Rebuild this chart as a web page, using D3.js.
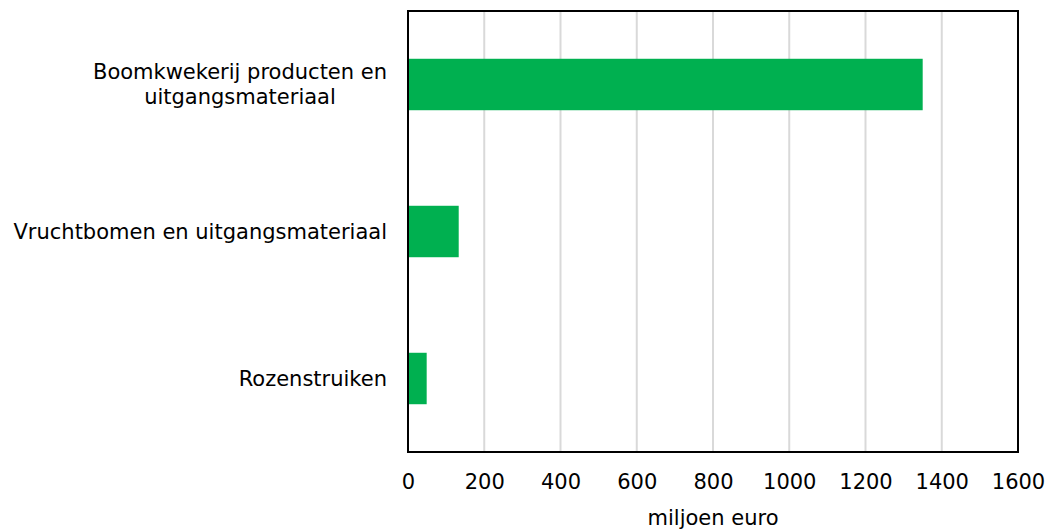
<!DOCTYPE html>
<html>
<head>
<meta charset="utf-8">
<script src="https://cdn.jsdelivr.net/npm/d3@7"></script>
<style>
  body { margin: 0; background: #fff; }
  text { font-family: "DejaVu Sans", Verdana, sans-serif; fill: #000; }
</style>
</head>
<body>
<svg id="chart" width="1048" height="530"></svg>
<script>
// categories, top to bottom (lines split as in the source)
const categories = [
  ["Boomkwekerij producten en", "uitgangsmateriaal"],
  ["Vruchtbomen en uitgangsmateriaal"],
  ["Rozenstruiken"],
];
const values = [1350, 133, 49];
const xTicks = [0, 200, 400, 600, 800, 1000, 1200, 1400, 1600];
const xTitle = "miljoen euro";

const width = 1048;
const height = 530;
const margin = { top: 11, right: 30, bottom: 78, left: 408 };
const innerW = width - margin.left - margin.right;
const innerH = height - margin.top - margin.bottom;
const fontSize = "21px";

const $svg = d3.select("#chart");
const $g = $svg
  .append("g")
  .attr("transform", `translate(${margin.left},${margin.top})`);

const x = d3.scaleLinear().domain([0, 1600]).range([0, innerW]);
const y = d3
  .scaleBand()
  .domain(categories.map((d, i) => i))
  .range([0, innerH])
  .paddingInner(0.65)
  .paddingOuter(0.325);

// gridlines
$g.selectAll("line.grid")
  .data(xTicks.slice(1, -1))
  .enter()
  .append("line")
  .attr("class", "grid")
  .attr("x1", (d) => x(d))
  .attr("x2", (d) => x(d))
  .attr("y1", 0)
  .attr("y2", innerH)
  .attr("stroke", "#d9d9d9")
  .attr("stroke-width", 2);

// bars
$g.selectAll("rect.bar")
  .data(values)
  .enter()
  .append("rect")
  .attr("class", "bar")
  .attr("x", x(0))
  .attr("y", (d, i) => y(i))
  .attr("width", (d) => x(d) - x(0))
  .attr("height", y.bandwidth())
  .attr("fill", "#00b050");

// frame
$g.append("rect")
  .attr("x", 0)
  .attr("y", 0)
  .attr("width", innerW)
  .attr("height", innerH)
  .attr("fill", "none")
  .attr("stroke", "#000")
  .attr("stroke-width", 2);

// x tick labels
const xAxis = d3
  .axisBottom(x)
  .tickValues(xTicks)
  .tickFormat(d3.format("d"))
  .tickSize(0)
  .tickPadding(0);
const $xa = $g
  .append("g")
  .attr("transform", `translate(0,${innerH})`)
  .call(xAxis);
$xa.select(".domain").remove();
$xa.selectAll("text")
  .attr("y", 37)
  .attr("dy", 0)
  .style("font-size", fontSize)
  .style("font-family", "'DejaVu Sans', Verdana, sans-serif")
  .attr("fill", "#000");

// x title
$g.append("text")
  .attr("x", innerW / 2)
  .attr("y", innerH + 73)
  .attr("text-anchor", "middle")
  .style("font-size", fontSize)
  .text(xTitle);

// category labels: multi-line block, centered lines, right-aligned block
const lineH = 25;
categories.forEach((lines, i) => {
  const cy = y(i) + y.bandwidth() / 2;
  const $t = $g
    .append("text")
    .attr("text-anchor", "middle")
    .style("font-size", fontSize);
  lines.forEach((line, j) => {
    $t.append("tspan")
      .attr("x", 0)
      .attr("y", cy + (j - (lines.length - 1) / 2) * lineH + 7)
      .text(line);
  });
  const w = $t.node().getBBox().width;
  $t.attr("transform", `translate(${-21 - w / 2},0)`);
});
</script>
</body>
</html>
